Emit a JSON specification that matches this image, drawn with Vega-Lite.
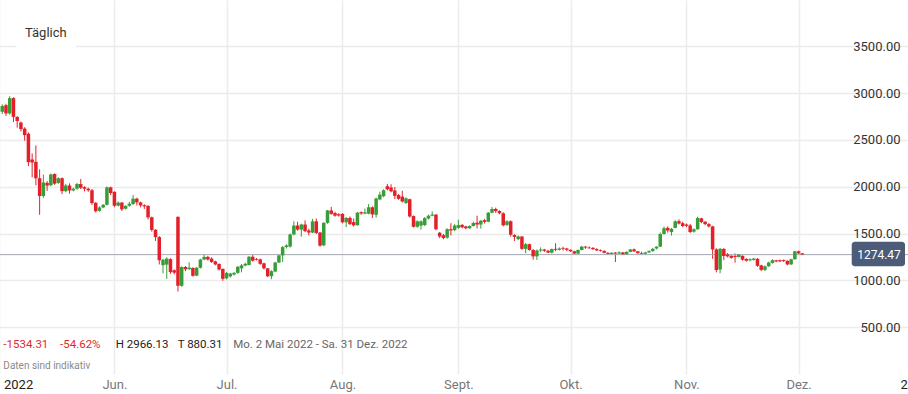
{
"$schema": "https://vega.github.io/schema/vega-lite/v6.json",
"width": 908, "height": 374,
"autosize": {"type": "none"},
"padding": {"left": 0, "top": 0, "right": 0, "bottom": 20},
"background": "white",
"config": {"view": {"stroke": null}, "font": "Roboto", "scale": {"continuousPadding": 0}},
"datasets": {
"candles": [
{"d":"2022-05-02","o":2800,"h":2880,"l":2775,"c":2862},
{"d":"2022-05-03","o":2870,"h":2885,"l":2755,"c":2782},
{"d":"2022-05-04","o":2782,"h":2966.13,"l":2770,"c":2945},
{"d":"2022-05-05","o":2945,"h":2955,"l":2690,"c":2745},
{"d":"2022-05-06","o":2745,"h":2755,"l":2630,"c":2700},
{"d":"2022-05-07","o":2685,"h":2695,"l":2590,"c":2615},
{"d":"2022-05-08","o":2620,"h":2635,"l":2490,"c":2550},
{"d":"2022-05-09","o":2565,"h":2580,"l":2220,"c":2262},
{"d":"2022-05-10","o":2290,"h":2355,"l":2100,"c":2258},
{"d":"2022-05-11","o":2265,"h":2440,"l":2015,"c":2090},
{"d":"2022-05-12","o":2090,"h":2185,"l":1700,"c":1900},
{"d":"2022-05-13","o":1900,"h":2130,"l":1880,"c":2045},
{"d":"2022-05-14","o":2040,"h":2060,"l":1955,"c":2012},
{"d":"2022-05-15","o":2015,"h":2140,"l":2005,"c":2130},
{"d":"2022-05-16","o":2135,"h":2142,"l":2020,"c":2032},
{"d":"2022-05-17","o":2040,"h":2100,"l":2030,"c":2090},
{"d":"2022-05-18","o":2090,"h":2100,"l":1920,"c":1952},
{"d":"2022-05-19","o":1952,"h":2030,"l":1940,"c":2012},
{"d":"2022-05-20","o":2012,"h":2035,"l":1925,"c":1960},
{"d":"2022-05-21","o":1960,"h":1990,"l":1950,"c":1978},
{"d":"2022-05-22","o":1978,"h":2040,"l":1968,"c":2028},
{"d":"2022-05-23","o":2028,"h":2082,"l":1975,"c":1988},
{"d":"2022-05-24","o":1995,"h":2005,"l":1950,"c":1978},
{"d":"2022-05-25","o":1978,"h":1990,"l":1945,"c":1962},
{"d":"2022-05-26","o":1962,"h":1975,"l":1805,"c":1825},
{"d":"2022-05-27","o":1828,"h":1835,"l":1725,"c":1738},
{"d":"2022-05-28","o":1742,"h":1790,"l":1732,"c":1778},
{"d":"2022-05-29","o":1778,"h":1815,"l":1770,"c":1806},
{"d":"2022-05-30","o":1806,"h":2002,"l":1800,"c":1993},
{"d":"2022-05-31","o":1993,"h":2000,"l":1910,"c":1932},
{"d":"2022-06-01","o":1945,"h":1950,"l":1780,"c":1797},
{"d":"2022-06-02","o":1797,"h":1842,"l":1790,"c":1830},
{"d":"2022-06-03","o":1830,"h":1836,"l":1740,"c":1758},
{"d":"2022-06-04","o":1765,"h":1800,"l":1755,"c":1795},
{"d":"2022-06-05","o":1795,"h":1840,"l":1785,"c":1818},
{"d":"2022-06-06","o":1815,"h":1910,"l":1805,"c":1872},
{"d":"2022-06-07","o":1872,"h":1882,"l":1800,"c":1832},
{"d":"2022-06-08","o":1832,"h":1840,"l":1780,"c":1800},
{"d":"2022-06-09","o":1802,"h":1812,"l":1762,"c":1790},
{"d":"2022-06-10","o":1795,"h":1802,"l":1650,"c":1672},
{"d":"2022-06-11","o":1674,"h":1680,"l":1520,"c":1538},
{"d":"2022-06-12","o":1540,"h":1546,"l":1420,"c":1462},
{"d":"2022-06-13","o":1462,"h":1472,"l":1170,"c":1215},
{"d":"2022-06-14","o":1162,"h":1232,"l":1075,"c":1220},
{"d":"2022-06-15","o":1168,"h":1246,"l":1015,"c":1232},
{"d":"2022-06-16","o":1226,"h":1236,"l":1070,"c":1088},
{"d":"2022-06-17","o":1108,"h":1116,"l":1062,"c":1082},
{"d":"2022-06-18","o":1678,"h":1682,"l":880.31,"c":942},
{"d":"2022-06-19","o":942,"h":1150,"l":930,"c":1142},
{"d":"2022-06-20","o":1142,"h":1152,"l":1098,"c":1118},
{"d":"2022-06-21","o":1122,"h":1192,"l":1110,"c":1136},
{"d":"2022-06-22","o":1132,"h":1140,"l":1040,"c":1048},
{"d":"2022-06-23","o":1050,"h":1142,"l":1044,"c":1134},
{"d":"2022-06-24","o":1134,"h":1230,"l":1126,"c":1222},
{"d":"2022-06-25","o":1222,"h":1278,"l":1214,"c":1250},
{"d":"2022-06-26","o":1250,"h":1262,"l":1210,"c":1222},
{"d":"2022-06-27","o":1232,"h":1246,"l":1186,"c":1196},
{"d":"2022-06-28","o":1202,"h":1210,"l":1160,"c":1170},
{"d":"2022-06-29","o":1175,"h":1180,"l":1105,"c":1116},
{"d":"2022-06-30","o":1122,"h":1127,"l":995,"c":1016},
{"d":"2022-07-01","o":1022,"h":1090,"l":1010,"c":1078},
{"d":"2022-07-02","o":1042,"h":1080,"l":1030,"c":1072},
{"d":"2022-07-03","o":1062,"h":1088,"l":1052,"c":1080},
{"d":"2022-07-04","o":1080,"h":1152,"l":1070,"c":1145},
{"d":"2022-07-05","o":1128,"h":1175,"l":1085,"c":1160},
{"d":"2022-07-06","o":1158,"h":1188,"l":1150,"c":1176},
{"d":"2022-07-07","o":1164,"h":1260,"l":1160,"c":1252},
{"d":"2022-07-08","o":1252,"h":1272,"l":1200,"c":1210},
{"d":"2022-07-09","o":1228,"h":1238,"l":1212,"c":1220},
{"d":"2022-07-10","o":1224,"h":1232,"l":1166,"c":1176},
{"d":"2022-07-11","o":1182,"h":1188,"l":1116,"c":1128},
{"d":"2022-07-12","o":1128,"h":1132,"l":1034,"c":1044},
{"d":"2022-07-13","o":1044,"h":1108,"l":1012,"c":1098},
{"d":"2022-07-14","o":1094,"h":1198,"l":1088,"c":1190},
{"d":"2022-07-15","o":1190,"h":1276,"l":1184,"c":1266},
{"d":"2022-07-16","o":1266,"h":1366,"l":1196,"c":1355},
{"d":"2022-07-17","o":1356,"h":1386,"l":1340,"c":1372},
{"d":"2022-07-18","o":1360,"h":1500,"l":1350,"c":1490},
{"d":"2022-07-19","o":1490,"h":1630,"l":1480,"c":1585},
{"d":"2022-07-20","o":1585,"h":1625,"l":1530,"c":1542},
{"d":"2022-07-21","o":1542,"h":1605,"l":1466,"c":1596},
{"d":"2022-07-22","o":1596,"h":1640,"l":1515,"c":1525},
{"d":"2022-07-23","o":1532,"h":1552,"l":1480,"c":1510},
{"d":"2022-07-24","o":1510,"h":1656,"l":1504,"c":1630},
{"d":"2022-07-25","o":1630,"h":1660,"l":1494,"c":1506},
{"d":"2022-07-26","o":1510,"h":1516,"l":1360,"c":1370},
{"d":"2022-07-27","o":1374,"h":1620,"l":1364,"c":1614},
{"d":"2022-07-28","o":1614,"h":1752,"l":1604,"c":1746},
{"d":"2022-07-29","o":1746,"h":1785,"l":1700,"c":1710},
{"d":"2022-07-30","o":1718,"h":1732,"l":1680,"c":1690},
{"d":"2022-07-31","o":1706,"h":1716,"l":1680,"c":1692},
{"d":"2022-08-01","o":1710,"h":1716,"l":1608,"c":1620},
{"d":"2022-08-02","o":1620,"h":1676,"l":1568,"c":1666},
{"d":"2022-08-03","o":1666,"h":1682,"l":1590,"c":1600},
{"d":"2022-08-04","o":1622,"h":1660,"l":1574,"c":1588},
{"d":"2022-08-05","o":1588,"h":1730,"l":1584,"c":1722},
{"d":"2022-08-06","o":1728,"h":1736,"l":1700,"c":1714},
{"d":"2022-08-07","o":1712,"h":1766,"l":1705,"c":1726},
{"d":"2022-08-08","o":1712,"h":1815,"l":1704,"c":1780},
{"d":"2022-08-09","o":1780,"h":1790,"l":1666,"c":1704},
{"d":"2022-08-10","o":1700,"h":1880,"l":1670,"c":1875},
{"d":"2022-08-11","o":1864,"h":1946,"l":1855,"c":1915},
{"d":"2022-08-12","o":1898,"h":1972,"l":1886,"c":1962},
{"d":"2022-08-13","o":2005,"h":2030,"l":1960,"c":1972},
{"d":"2022-08-14","o":1992,"h":2026,"l":1940,"c":1950},
{"d":"2022-08-15","o":1960,"h":1996,"l":1868,"c":1902},
{"d":"2022-08-16","o":1910,"h":1922,"l":1860,"c":1870},
{"d":"2022-08-17","o":1894,"h":1956,"l":1830,"c":1842},
{"d":"2022-08-18","o":1826,"h":1886,"l":1815,"c":1876},
{"d":"2022-08-19","o":1866,"h":1872,"l":1670,"c":1682},
{"d":"2022-08-20","o":1686,"h":1692,"l":1564,"c":1572},
{"d":"2022-08-21","o":1572,"h":1640,"l":1560,"c":1630},
{"d":"2022-08-22","o":1584,"h":1642,"l":1542,"c":1630},
{"d":"2022-08-23","o":1590,"h":1676,"l":1580,"c":1664},
{"d":"2022-08-24","o":1660,"h":1702,"l":1650,"c":1690},
{"d":"2022-08-25","o":1690,"h":1736,"l":1684,"c":1702},
{"d":"2022-08-26","o":1702,"h":1706,"l":1534,"c":1546},
{"d":"2022-08-27","o":1508,"h":1516,"l":1450,"c":1468},
{"d":"2022-08-28","o":1482,"h":1496,"l":1438,"c":1452},
{"d":"2022-08-29","o":1456,"h":1556,"l":1444,"c":1546},
{"d":"2022-08-30","o":1546,"h":1610,"l":1480,"c":1532},
{"d":"2022-08-31","o":1536,"h":1600,"l":1525,"c":1585},
{"d":"2022-09-01","o":1560,"h":1648,"l":1550,"c":1590},
{"d":"2022-09-02","o":1592,"h":1602,"l":1555,"c":1566},
{"d":"2022-09-03","o":1576,"h":1582,"l":1545,"c":1556},
{"d":"2022-09-04","o":1556,"h":1586,"l":1550,"c":1580},
{"d":"2022-09-05","o":1580,"h":1626,"l":1575,"c":1612},
{"d":"2022-09-06","o":1616,"h":1690,"l":1555,"c":1596},
{"d":"2022-09-07","o":1596,"h":1645,"l":1552,"c":1636},
{"d":"2022-09-08","o":1642,"h":1656,"l":1606,"c":1624},
{"d":"2022-09-09","o":1626,"h":1730,"l":1620,"c":1722},
{"d":"2022-09-10","o":1722,"h":1782,"l":1716,"c":1762},
{"d":"2022-09-11","o":1762,"h":1776,"l":1720,"c":1740},
{"d":"2022-09-12","o":1740,"h":1748,"l":1705,"c":1716},
{"d":"2022-09-13","o":1716,"h":1726,"l":1576,"c":1588},
{"d":"2022-09-14","o":1592,"h":1642,"l":1580,"c":1630},
{"d":"2022-09-15","o":1630,"h":1640,"l":1468,"c":1488},
{"d":"2022-09-16","o":1484,"h":1492,"l":1420,"c":1464},
{"d":"2022-09-17","o":1440,"h":1478,"l":1430,"c":1468},
{"d":"2022-09-18","o":1468,"h":1472,"l":1325,"c":1336},
{"d":"2022-09-19","o":1336,"h":1398,"l":1290,"c":1386},
{"d":"2022-09-20","o":1386,"h":1392,"l":1316,"c":1324},
{"d":"2022-09-21","o":1324,"h":1336,"l":1220,"c":1256},
{"d":"2022-09-22","o":1256,"h":1330,"l":1218,"c":1318},
{"d":"2022-09-23","o":1318,"h":1352,"l":1300,"c":1328},
{"d":"2022-09-24","o":1330,"h":1336,"l":1304,"c":1316},
{"d":"2022-09-25","o":1316,"h":1324,"l":1290,"c":1296},
{"d":"2022-09-26","o":1296,"h":1340,"l":1286,"c":1334},
{"d":"2022-09-27","o":1336,"h":1396,"l":1310,"c":1326},
{"d":"2022-09-28","o":1326,"h":1352,"l":1318,"c":1340},
{"d":"2022-09-29","o":1342,"h":1360,"l":1318,"c":1334},
{"d":"2022-09-30","o":1340,"h":1346,"l":1312,"c":1326},
{"d":"2022-10-01","o":1326,"h":1330,"l":1304,"c":1310},
{"d":"2022-10-02","o":1310,"h":1316,"l":1280,"c":1286},
{"d":"2022-10-03","o":1286,"h":1330,"l":1276,"c":1324},
{"d":"2022-10-04","o":1324,"h":1368,"l":1320,"c":1360},
{"d":"2022-10-05","o":1360,"h":1366,"l":1336,"c":1350},
{"d":"2022-10-06","o":1350,"h":1362,"l":1340,"c":1342},
{"d":"2022-10-07","o":1346,"h":1356,"l":1326,"c":1332},
{"d":"2022-10-08","o":1334,"h":1342,"l":1314,"c":1320},
{"d":"2022-10-09","o":1322,"h":1330,"l":1306,"c":1314},
{"d":"2022-10-10","o":1314,"h":1320,"l":1288,"c":1294},
{"d":"2022-10-11","o":1294,"h":1300,"l":1276,"c":1282},
{"d":"2022-10-12","o":1282,"h":1300,"l":1276,"c":1294},
{"d":"2022-10-13","o":1296,"h":1302,"l":1196,"c":1286},
{"d":"2022-10-14","o":1286,"h":1310,"l":1280,"c":1298},
{"d":"2022-10-15","o":1298,"h":1302,"l":1270,"c":1278},
{"d":"2022-10-16","o":1278,"h":1310,"l":1274,"c":1304},
{"d":"2022-10-17","o":1304,"h":1336,"l":1300,"c":1330},
{"d":"2022-10-18","o":1330,"h":1340,"l":1302,"c":1310},
{"d":"2022-10-19","o":1310,"h":1314,"l":1284,"c":1290},
{"d":"2022-10-20","o":1292,"h":1306,"l":1276,"c":1284},
{"d":"2022-10-21","o":1284,"h":1304,"l":1270,"c":1298},
{"d":"2022-10-22","o":1298,"h":1320,"l":1294,"c":1312},
{"d":"2022-10-23","o":1312,"h":1346,"l":1306,"c":1336},
{"d":"2022-10-24","o":1340,"h":1362,"l":1330,"c":1360},
{"d":"2022-10-25","o":1360,"h":1510,"l":1355,"c":1495},
{"d":"2022-10-26","o":1495,"h":1575,"l":1488,"c":1556},
{"d":"2022-10-27","o":1560,"h":1576,"l":1510,"c":1532},
{"d":"2022-10-28","o":1516,"h":1560,"l":1478,"c":1550},
{"d":"2022-10-29","o":1560,"h":1642,"l":1555,"c":1630},
{"d":"2022-10-30","o":1632,"h":1652,"l":1596,"c":1606},
{"d":"2022-10-31","o":1610,"h":1626,"l":1568,"c":1580},
{"d":"2022-11-01","o":1596,"h":1606,"l":1566,"c":1582},
{"d":"2022-11-02","o":1586,"h":1602,"l":1505,"c":1516},
{"d":"2022-11-03","o":1520,"h":1556,"l":1510,"c":1545},
{"d":"2022-11-04","o":1545,"h":1680,"l":1540,"c":1665},
{"d":"2022-11-05","o":1662,"h":1668,"l":1610,"c":1622},
{"d":"2022-11-06","o":1626,"h":1632,"l":1588,"c":1600},
{"d":"2022-11-07","o":1600,"h":1612,"l":1564,"c":1576},
{"d":"2022-11-08","o":1576,"h":1582,"l":1230,"c":1330},
{"d":"2022-11-09","o":1330,"h":1342,"l":1085,"c":1110},
{"d":"2022-11-10","o":1116,"h":1346,"l":1075,"c":1336},
{"d":"2022-11-11","o":1336,"h":1342,"l":1215,"c":1260},
{"d":"2022-11-12","o":1276,"h":1292,"l":1245,"c":1256},
{"d":"2022-11-13","o":1262,"h":1268,"l":1230,"c":1240},
{"d":"2022-11-14","o":1262,"h":1288,"l":1188,"c":1250},
{"d":"2022-11-15","o":1250,"h":1282,"l":1244,"c":1276},
{"d":"2022-11-16","o":1262,"h":1266,"l":1210,"c":1220},
{"d":"2022-11-17","o":1228,"h":1236,"l":1200,"c":1210},
{"d":"2022-11-18","o":1214,"h":1234,"l":1204,"c":1226},
{"d":"2022-11-19","o":1218,"h":1240,"l":1212,"c":1232},
{"d":"2022-11-20","o":1230,"h":1236,"l":1144,"c":1155},
{"d":"2022-11-21","o":1160,"h":1166,"l":1098,"c":1112},
{"d":"2022-11-22","o":1112,"h":1158,"l":1100,"c":1150},
{"d":"2022-11-23","o":1150,"h":1198,"l":1144,"c":1190},
{"d":"2022-11-24","o":1186,"h":1226,"l":1180,"c":1215},
{"d":"2022-11-25","o":1214,"h":1218,"l":1192,"c":1202},
{"d":"2022-11-26","o":1214,"h":1222,"l":1196,"c":1202},
{"d":"2022-11-27","o":1216,"h":1222,"l":1196,"c":1206},
{"d":"2022-11-28","o":1208,"h":1214,"l":1160,"c":1170},
{"d":"2022-11-29","o":1170,"h":1230,"l":1164,"c":1225},
{"d":"2022-11-30","o":1225,"h":1316,"l":1220,"c":1310},
{"d":"2022-12-01","o":1310,"h":1318,"l":1280,"c":1288},
{"d":"2022-12-02","o":1288,"h":1292,"l":1270,"c":1274.47}
]
},
"layer": [
{
"data": {"name": "candles"},
"mark": {"type": "rule", "strokeWidth": 1},
"encoding": {
"x": {"field": "d", "type": "temporal", "title": null,
"scale": {"type": "utc", "domain": [{"year": 2022, "month": 5, "date": 1, "utc": true}, {"year": 2023, "month": 1, "date": 1, "utc": true}], "range": [-1.5, 914.5], "nice": false, "padding": 0},
"axis": {
"values": [
{"year": 2022, "month": 5, "date": 1, "utc": true},
{"year": 2022, "month": 6, "date": 1, "utc": true},
{"year": 2022, "month": 7, "date": 1, "utc": true},
{"year": 2022, "month": 8, "date": 1, "utc": true},
{"year": 2022, "month": 9, "date": 1, "utc": true},
{"year": 2022, "month": 10, "date": 1, "utc": true},
{"year": 2022, "month": 11, "date": 1, "utc": true},
{"year": 2022, "month": 12, "date": 1, "utc": true},
{"year": 2023, "month": 1, "date": 1, "utc": true}
],
"labelExpr": "(utcmonth(datum.value) == 4 || utcmonth(datum.value) == 0) ? utcFormat(datum.value, '%Y') : ['Jan.','Feb.','März','Apr.','Mai','Jun.','Jul.','Aug.','Sept.','Okt.','Nov.','Dez.'][utcmonth(datum.value)]",
"grid": true, "gridColor": "#ececec", "gridWidth": 1.5,
"ticks": false, "tickSize": 0, "domain": false,
"labelPadding": 4, "labelFontSize": 13, "labelFont": "Roboto",
"labelColor": {"condition": {"test": "utcmonth(datum.value) == 4 || utcmonth(datum.value) == 0", "value": "#222222"}, "value": "#777777"},
"labelAlign": {"condition": {"test": "utcmonth(datum.value) == 4", "value": "left"}, "value": "center"},
"labelOffset": {"condition": {"test": "utcmonth(datum.value) == 4", "value": 5}, "value": 0},
"labelFlush": false, "labelOverlap": false, "labelBound": false, "title": null
}
},
"y": {"field": "l", "type": "quantitative", "title": null,
"scale": {"domain": [0, 3993], "nice": false, "zero": false, "padding": 0},
"axis": {
"orient": "right", "values": [500, 1000, 1500, 2000, 2500, 3000, 3500], "format": ".2f",
"labelAlign": "right", "labelBaseline": "middle", "labelPadding": -8,
"ticks": false, "tickSize": 0, "domain": false,
"grid": true, "gridColor": "#ececec", "gridWidth": 1.5,
"labelColor": "#333333", "labelFontSize": 13, "labelFont": "Roboto", "labelOverlap": false, "title": null
}
},
"y2": {"field": "h"},
"color": {"condition": {"test": "datum.o <= datum.c", "value": "#379d37"}, "value": "#e3202a"}
}
},
{
"data": {"values": [{"p": 1274.47}]},
"mark": {"type": "rule", "color": "#a3a8b1", "strokeWidth": 1},
"encoding": {
"y": {"field": "p", "type": "quantitative", "title": null, "scale": {"domain": [0, 3993], "nice": false, "zero": false, "padding": 0}}
}
},
{
"data": {"name": "candles"},
"mark": {"type": "bar", "width": 3.5},
"encoding": {
"x": {"field": "d", "type": "temporal", "title": null, "scale": {"type": "utc", "domain": [{"year": 2022, "month": 5, "date": 1, "utc": true}, {"year": 2023, "month": 1, "date": 1, "utc": true}], "range": [-1.5, 914.5], "nice": false, "padding": 0}},
"y": {"field": "o", "type": "quantitative", "title": null, "scale": {"domain": [0, 3993], "nice": false, "zero": false, "padding": 0}},
"y2": {"field": "c"},
"color": {"condition": {"test": "datum.o <= datum.c", "value": "#379d37"}, "value": "#e3202a"}
}
},
{
"data": {"values": [{}]},
"mark": {"type": "rect", "fill": "white"},
"encoding": {
"x": {"datum": {"year": 2022, "month": 5, "date": 5, "hours": 16, "utc": true}, "type": "temporal", "title": null, "scale": {"type": "utc", "domain": [{"year": 2022, "month": 5, "date": 1, "utc": true}, {"year": 2023, "month": 1, "date": 1, "utc": true}], "range": [-1.5, 914.5], "nice": false, "padding": 0}},
"x2": {"datum": {"year": 2022, "month": 5, "date": 21, "hours": 17, "utc": true}},
"y": {"datum": 3779, "type": "quantitative", "title": null, "scale": {"domain": [0, 3993], "nice": false, "zero": false, "padding": 0}},
"y2": {"datum": 3485}
}
},
{
"data": {"values": [{}]},
"mark": {"type": "text", "align": "left", "baseline": "middle", "fontSize": 13, "font": "Roboto", "color": "#333333"},
"encoding": {
"x": {"datum": {"year": 2022, "month": 5, "date": 8, "hours": 2, "utc": true}, "type": "temporal", "title": null, "scale": {"type": "utc", "domain": [{"year": 2022, "month": 5, "date": 1, "utc": true}, {"year": 2023, "month": 1, "date": 1, "utc": true}], "range": [-1.5, 914.5], "nice": false, "padding": 0}},
"y": {"datum": 3637, "type": "quantitative", "title": null, "scale": {"domain": [0, 3993], "nice": false, "zero": false, "padding": 0}},
"text": {"value": "Täglich"}
}
},
{
"data": {"values": [{}]},
"mark": {"type": "text", "align": "left", "baseline": "middle", "fontSize": 11.5, "font": "Roboto", "color": "#e02a2a"},
"encoding": {
"x": {"datum": {"year": 2022, "month": 5, "date": 2, "hours": 7, "utc": true}, "type": "temporal", "title": null, "scale": {"type": "utc", "domain": [{"year": 2022, "month": 5, "date": 1, "utc": true}, {"year": 2023, "month": 1, "date": 1, "utc": true}], "range": [-1.5, 914.5], "nice": false, "padding": 0}},
"y": {"datum": 310, "type": "quantitative", "title": null, "scale": {"domain": [0, 3993], "nice": false, "zero": false, "padding": 0}},
"text": {"value": "-1534.31"}
}
},
{
"data": {"values": [{}]},
"mark": {"type": "text", "align": "left", "baseline": "middle", "fontSize": 11.5, "font": "Roboto", "color": "#e02a2a"},
"encoding": {
"x": {"datum": {"year": 2022, "month": 5, "date": 17, "hours": 11, "utc": true}, "type": "temporal", "title": null, "scale": {"type": "utc", "domain": [{"year": 2022, "month": 5, "date": 1, "utc": true}, {"year": 2023, "month": 1, "date": 1, "utc": true}], "range": [-1.5, 914.5], "nice": false, "padding": 0}},
"y": {"datum": 310, "type": "quantitative", "title": null, "scale": {"domain": [0, 3993], "nice": false, "zero": false, "padding": 0}},
"text": {"value": "-54.62%"}
}
},
{
"data": {"values": [{}]},
"mark": {"type": "text", "align": "left", "baseline": "middle", "fontSize": 11.5, "font": "Roboto", "color": "#222222"},
"encoding": {
"x": {"datum": {"year": 2022, "month": 6, "date": 1, "hours": 8, "utc": true}, "type": "temporal", "title": null, "scale": {"type": "utc", "domain": [{"year": 2022, "month": 5, "date": 1, "utc": true}, {"year": 2023, "month": 1, "date": 1, "utc": true}], "range": [-1.5, 914.5], "nice": false, "padding": 0}},
"y": {"datum": 310, "type": "quantitative", "title": null, "scale": {"domain": [0, 3993], "nice": false, "zero": false, "padding": 0}},
"text": {"value": "H 2966.13"}
}
},
{
"data": {"values": [{}]},
"mark": {"type": "text", "align": "left", "baseline": "middle", "fontSize": 11.5, "font": "Roboto", "color": "#222222"},
"encoding": {
"x": {"datum": {"year": 2022, "month": 6, "date": 17, "hours": 22, "utc": true}, "type": "temporal", "title": null, "scale": {"type": "utc", "domain": [{"year": 2022, "month": 5, "date": 1, "utc": true}, {"year": 2023, "month": 1, "date": 1, "utc": true}], "range": [-1.5, 914.5], "nice": false, "padding": 0}},
"y": {"datum": 310, "type": "quantitative", "title": null, "scale": {"domain": [0, 3993], "nice": false, "zero": false, "padding": 0}},
"text": {"value": "T 880.31"}
}
},
{
"data": {"values": [{}]},
"mark": {"type": "text", "align": "left", "baseline": "middle", "fontSize": 11.5, "font": "Roboto", "color": "#666666"},
"encoding": {
"x": {"datum": {"year": 2022, "month": 7, "date": 2, "hours": 19, "utc": true}, "type": "temporal", "title": null, "scale": {"type": "utc", "domain": [{"year": 2022, "month": 5, "date": 1, "utc": true}, {"year": 2023, "month": 1, "date": 1, "utc": true}], "range": [-1.5, 914.5], "nice": false, "padding": 0}},
"y": {"datum": 310, "type": "quantitative", "title": null, "scale": {"domain": [0, 3993], "nice": false, "zero": false, "padding": 0}},
"text": {"value": "Mo. 2 Mai 2022 - Sa. 31 Dez. 2022"}
}
},
{
"data": {"values": [{}]},
"mark": {"type": "text", "align": "left", "baseline": "middle", "fontSize": 10, "font": "Roboto", "color": "#8a8a8a"},
"encoding": {
"x": {"datum": {"year": 2022, "month": 5, "date": 2, "hours": 7, "utc": true}, "type": "temporal", "title": null, "scale": {"type": "utc", "domain": [{"year": 2022, "month": 5, "date": 1, "utc": true}, {"year": 2023, "month": 1, "date": 1, "utc": true}], "range": [-1.5, 914.5], "nice": false, "padding": 0}},
"y": {"datum": 86, "type": "quantitative", "title": null, "scale": {"domain": [0, 3993], "nice": false, "zero": false, "padding": 0}},
"text": {"value": "Daten sind indikativ"}
}
},
{
"data": {"values": [{}]},
"mark": {"type": "rect", "fill": "#4b5b78", "cornerRadius": 3},
"encoding": {
"x": {"datum": {"year": 2022, "month": 12, "date": 15, "hours": 5, "utc": true}, "type": "temporal", "title": null, "scale": {"type": "utc", "domain": [{"year": 2022, "month": 5, "date": 1, "utc": true}, {"year": 2023, "month": 1, "date": 1, "utc": true}], "range": [-1.5, 914.5], "nice": false, "padding": 0}},
"x2": {"datum": {"year": 2022, "month": 12, "date": 29, "hours": 11, "utc": true}},
"y": {"datum": 1412, "type": "quantitative", "title": null, "scale": {"domain": [0, 3993], "nice": false, "zero": false, "padding": 0}},
"y2": {"datum": 1150}
}
},
{
"data": {"values": [{}]},
"mark": {"type": "text", "align": "center", "baseline": "middle", "fontSize": 12, "font": "Roboto", "color": "white"},
"encoding": {
"x": {"datum": {"year": 2022, "month": 12, "date": 22, "hours": 12, "utc": true}, "type": "temporal", "title": null, "scale": {"type": "utc", "domain": [{"year": 2022, "month": 5, "date": 1, "utc": true}, {"year": 2023, "month": 1, "date": 1, "utc": true}], "range": [-1.5, 914.5], "nice": false, "padding": 0}},
"y": {"datum": 1274.47, "type": "quantitative", "title": null, "scale": {"domain": [0, 3993], "nice": false, "zero": false, "padding": 0}},
"text": {"value": "1274.47"}
}
}
]
}
